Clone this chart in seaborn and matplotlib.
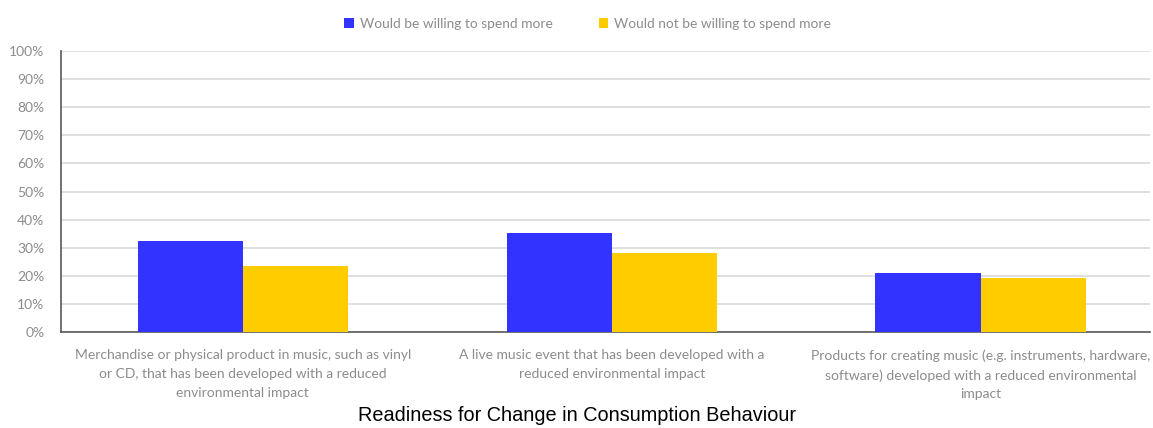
import matplotlib
matplotlib.use("Agg")
import matplotlib.pyplot as plt
import seaborn as sns
import pandas as pd
from matplotlib.ticker import PercentFormatter

categories = [
    "Merchandise or physical product in music, such as vinyl\nor CD, that has been developed with a reduced\nenvironmental impact",
    "A live music event that has been developed with a\nreduced environmental impact",
    "Products for creating music (e.g. instruments, hardware,\nsoftware) developed with a reduced environmental\nimpact",
]
series_names = ["Would be willing to spend more", "Would not be willing to spend more"]
willing = [32.5, 35.3, 20.9]
not_willing = [23.6, 28.1, 19.2]
colors = ["#3333FF", "#FFCC00"]
title = "Readiness for Change in Consumption Behaviour"

df = pd.DataFrame({
    "category": categories * 2,
    "series": [series_names[0]] * 3 + [series_names[1]] * 3,
    "value": willing + not_willing,
})

sns.set_style("white")
plt.rcParams["font.family"] = ["Lato", "DejaVu Sans"]

fig = plt.figure(figsize=(11.53, 4.28), dpi=100)
ax = fig.add_axes([0.0529, 0.2243, 0.9441, 0.6565])

sns.barplot(data=df, x="category", y="value", hue="series", palette=colors,
            width=0.57, gap=0, saturation=1, ax=ax, legend=True, zorder=3,
            linewidth=0, edgecolor="none")

ax.set_xlim(-0.493, 2.458)
ax.set_ylim(0, 100)
ax.set_yticks(range(0, 101, 10))
ax.yaxis.set_major_formatter(PercentFormatter(decimals=0))
ax.grid(axis="y", color="#d9d9d9", linewidth=1.2, zorder=0)
ax.set_axisbelow(True)
for s in ["top", "right"]:
    ax.spines[s].set_visible(False)
for s in ["left", "bottom"]:
    ax.spines[s].set_color("#595959")
    ax.spines[s].set_linewidth(1.2)
ax.tick_params(axis="both", length=0, colors="#8c8c8c", labelsize=10)
ax.tick_params(axis="x", pad=12.5)
ax.tick_params(axis="y", pad=12)
ax.set_xlabel("")
ax.set_ylabel("")
for lab in ax.get_xticklabels():
    lab.set_linespacing(1.68)

leg = ax.legend(loc="center", bbox_to_anchor=(0.484, 1.097), ncol=2, frameon=False,
                fontsize=9.9, handlelength=0.7, handleheight=0.7, columnspacing=3.3,
                handletextpad=0.45)
for t in leg.get_texts():
    t.set_color("#8c8c8c")

fig.text(0.5, 0.030, title, ha="center", va="center", fontsize=14.3,
         family=["Liberation Sans", "DejaVu Sans"], color="#000000")

fig.savefig("out.png", dpi=100)
